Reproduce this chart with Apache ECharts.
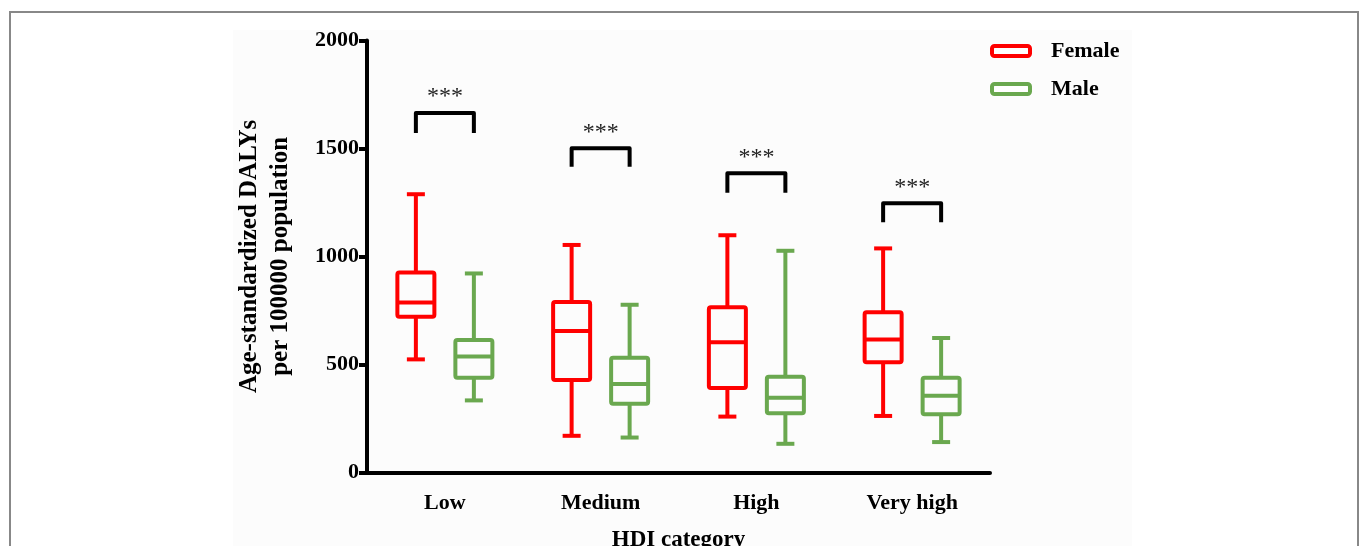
<!DOCTYPE html>
<html>
<head>
<meta charset="utf-8">
<script src="https://cdn.jsdelivr.net/npm/echarts@6/dist/echarts.min.js"></script>
<style>html,body{margin:0;padding:0;background:#fff}#c{width:1360px;height:546px}</style>
</head>
<body>
<div id="c"></div>
<script>
// ---- data ----
const categories = ['Low', 'Medium', 'High', 'Very high'];
const yTicks = [0, 500, 1000, 1500, 2000];
// [min, Q1, median, Q3, max] per category
const femaleBox = [
  [523, 720, 787, 926, 1288],
  [169, 427, 655, 789, 1053],
  [258, 390, 602, 765, 1098],
  [261, 510, 615, 741, 1037]
];
const maleBox = [
  [333, 438, 536, 613, 921],
  [161, 317, 409, 531, 776],
  [132, 274, 345, 443, 1026],
  [140, 269, 354, 438, 622]
];
// significance brackets: [top of bracket, bottom of legs]
const bracketTop = [1664, 1501, 1385, 1246];
const bracketLeg = [1572, 1415, 1295, 1158];
const sigLabels = ['***', '***', '***', '***'];

// ---- styles ----
const RED = '#ff0000';
const GREEN = '#6aa84f';
const FONT = 'Liberation Serif';
const OFFSET = 29;     // px offset of each box from category center
const BOXW = 37;       // box width (path), px
const CAPW = 18;       // whisker cap width, px
const LW = 4;

function boxRender(offset, color) {
  return function (params, api) {
    const i = api.value(0);
    const cx = api.coord([i, 0])[0] + offset;
    const yMin = api.coord([i, api.value(1)])[1];
    const yQ1 = api.coord([i, api.value(2)])[1];
    const yMed = api.coord([i, api.value(3)])[1];
    const yQ3 = api.coord([i, api.value(4)])[1];
    const yMax = api.coord([i, api.value(5)])[1];
    const st = {stroke: color, lineWidth: LW, fill: null, lineCap: 'butt', lineJoin: 'round'};
    return {
      type: 'group',
      children: [
        {type: 'line', shape: {x1: cx, y1: yMax, x2: cx, y2: yQ3}, style: st},
        {type: 'line', shape: {x1: cx, y1: yQ1, x2: cx, y2: yMin}, style: st},
        {type: 'line', shape: {x1: cx - CAPW / 2, y1: yMax, x2: cx + CAPW / 2, y2: yMax}, style: st},
        {type: 'line', shape: {x1: cx - CAPW / 2, y1: yMin, x2: cx + CAPW / 2, y2: yMin}, style: st},
        {type: 'rect', shape: {x: cx - BOXW / 2, y: yQ3, width: BOXW, height: yQ1 - yQ3, r: 2}, style: st},
        {type: 'line', shape: {x1: cx - BOXW / 2, y1: yMed, x2: cx + BOXW / 2, y2: yMed}, style: st}
      ]
    };
  };
}

function bracketRender(params, api) {
  const i = api.value(0);
  const xL = api.coord([i, 0])[0] - OFFSET;
  const xR = api.coord([i, 0])[0] + OFFSET;
  const yT = api.coord([i, api.value(1)])[1];
  const yB = api.coord([i, api.value(2)])[1];
  return {
    type: 'group',
    children: [
      {type: 'polyline', shape: {points: [[xL, yB], [xL, yT], [xR, yT], [xR, yB]]},
       style: {stroke: '#000', lineWidth: LW, fill: null, lineJoin: 'round'}},
      {type: 'text', x: (xL + xR) / 2, y: yT - 16,
       style: {text: sigLabels[i], fill: '#222', font: '24px "' + FONT + '"', align: 'center', verticalAlign: 'middle'}}
    ]
  };
}

const chart = echarts.init(document.getElementById('c'), null, {renderer: 'canvas'});
chart.setOption({
  animation: false,
  backgroundColor: '#ffffff',
  graphic: [
    {type: 'rect', z: -10, silent: true, shape: {x: 233, y: 30, width: 899, height: 530},
     style: {fill: '#fcfcfc', stroke: null}},
    {type: 'rect', z: -5, silent: true, shape: {x: 10, y: 12, width: 1348, height: 560},
     style: {fill: null, stroke: '#888', lineWidth: 2}}
  ],
  grid: {left: 367, right: 370, top: 40.5, bottom: 73.7, containLabel: false, outerBoundsMode: 'none'},
  legend: {
    orient: 'vertical', left: 990, top: 40, padding: 0,
    itemWidth: 38, itemHeight: 10, itemGap: 16,
    textStyle: {fontFamily: FONT, fontWeight: 'bold', fontSize: 22, color: '#000', padding: [0, 0, 0, 16]},
    data: [
      {name: 'Female', icon: 'roundRect', itemStyle: {color: '#fff', borderColor: RED, borderWidth: 4}},
      {name: 'Male', icon: 'roundRect', itemStyle: {color: '#fff', borderColor: GREEN, borderWidth: 4}}
    ]
  },
  xAxis: {
    type: 'category', data: categories, boundaryGap: true,
    name: 'HDI category', nameLocation: 'middle', nameGap: 56,
    nameTextStyle: {fontFamily: FONT, fontWeight: 'bold', fontSize: 23, color: '#000'},
    axisLine: {lineStyle: {color: '#000', width: 4}},
    axisTick: {alignWithLabel: true, length: 6, lineStyle: {color: '#000', width: 4}},
    axisLabel: {fontFamily: FONT, fontWeight: 'bold', fontSize: 22, color: '#000', margin: 20},
    splitLine: {show: false}
  },
  yAxis: {
    type: 'value', min: 0, max: 2000, interval: 500,
    name: 'Age-standardized DALYs\nper 100000 population', nameLocation: 'middle', nameGap: 71, nameRotate: 90,
    nameTextStyle: {fontFamily: FONT, fontWeight: 'bold', fontSize: 25, color: '#000', lineHeight: 31},
    axisLine: {show: true, lineStyle: {color: '#000', width: 4}},
    axisTick: {show: true, length: 8, lineStyle: {color: '#000', width: 4}},
    axisLabel: {fontFamily: FONT, fontWeight: 'bold', fontSize: 22, color: '#000', margin: 8,
      formatter: function (v) { return yTicks.indexOf(v) >= 0 ? String(v) : ''; }},
    splitLine: {show: false}
  },
  series: [
    {name: 'Female', type: 'custom', itemStyle: {color: RED, borderColor: RED},
     renderItem: boxRender(-OFFSET, RED), encode: {x: 0, y: [1, 2, 3, 4, 5]},
     data: femaleBox.map((d, i) => [i].concat(d))},
    {name: 'Male', type: 'custom', itemStyle: {color: GREEN, borderColor: GREEN},
     renderItem: boxRender(OFFSET, GREEN), encode: {x: 0, y: [1, 2, 3, 4, 5]},
     data: maleBox.map((d, i) => [i].concat(d))},
    {name: 'sig', type: 'custom', renderItem: bracketRender, encode: {x: 0, y: [1, 2]},
     data: bracketTop.map((t, i) => [i, t, bracketLeg[i]])}
  ]
});
</script>
</body>
</html>
